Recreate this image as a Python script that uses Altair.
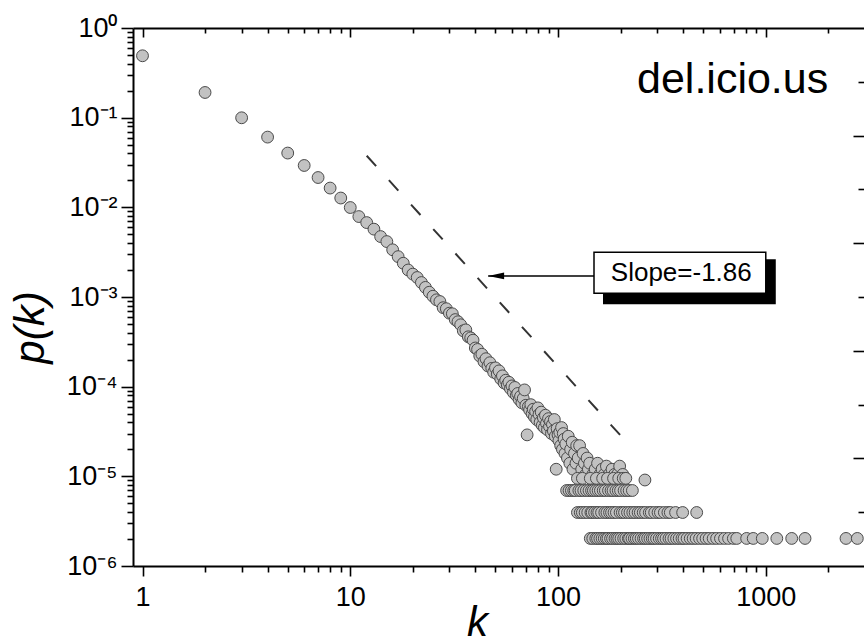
import altair as alt
import pandas as pd

# ---------------- data ----------------
head_k = list(range(1, 101))
head_p = [0.49, 0.191, 0.0997, 0.0607, 0.0403, 0.0293, 0.0215, 0.0164, 0.0127, 0.00995,
          0.00789, 0.00676, 0.00571, 0.00472, 0.00415, 0.00336, 0.00282, 0.00238, 0.00200, 0.00180,
          0.00165, 0.00145, 0.00128, 0.00113, 0.00102, 9.3e-4, 8.9e-4, 7.6e-4, 7.4e-4, 6.6e-4,
          6.5e-4, 5.6e-4, 5.3e-4, 4.9e-4, 4.2e-4, 4.3e-4, 3.6e-4, 3.5e-4, 3.3e-4, 2.7e-4,
          2.6e-4, 2.2e-4, 2.3e-4, 1.9e-4, 2.05e-4, 1.7e-4, 1.85e-4, 1.6e-4, 1.45e-4, 1.62e-4,
          1.38e-4, 1.50e-4, 1.22e-4, 1.32e-4, 1.10e-4, 1.18e-4, 1.05e-4, 1.12e-4, 0.95e-4, 1.02e-4,
          0.86e-4, 0.98e-4, 0.80e-4, 0.84e-4, 0.72e-4, 0.78e-4, 0.66e-4, 0.74e-4, 0.92e-4, 0.62e-4,
          0.29e-4, 0.60e-4, 0.55e-4, 0.63e-4, 0.50e-4, 0.56e-4, 0.46e-4, 0.53e-4, 0.43e-4, 0.58e-4,
          0.49e-4, 0.40e-4, 0.52e-4, 0.37e-4, 0.45e-4, 0.35e-4, 0.48e-4, 0.39e-4, 0.33e-4, 0.44e-4,
          0.36e-4, 0.41e-4, 0.30e-4, 0.38e-4, 0.32e-4, 0.43e-4, 0.28e-4, 0.12e-4, 0.34e-4, 0.29e-4]

mid_k = [101, 102, 103, 104, 105, 106, 107, 108, 109, 111, 112, 114, 115, 117, 118, 120, 122, 123,
         125, 127, 130, 132, 134, 136, 138, 140, 142, 147, 151, 155, 159, 163, 167, 171, 176, 182,
         187, 193, 198, 205, 262]
mid_p = [2.5e-5, 3.1e-5, 2.2e-5, 3.5e-5, 2.0e-5, 3.0e-5, 2.6e-5, 1.8e-5, 2.3e-5, 1.6e-5, 2.8e-5,
         1.4e-5, 2.0e-5, 2.4e-5, 1.2e-5, 1.8e-5, 1.4e-5, 2.2e-5, 1.6e-5, 2.2e-5, 1.2e-5, 1.8e-5,
         1.4e-5, 1.05e-5, 1.6e-5, 1.2e-5, 1.4e-5, 1.05e-5, 1.2e-5, 1.4e-5, 1.05e-5, 1.2e-5,
         1.05e-5, 1.3e-5, 1.05e-5, 1.2e-5, 1.05e-5, 1.05e-5, 1.3e-5, 1.05e-5, 9.1e-6]

row95_k = [124, 131, 143, 153, 164, 173, 185, 196, 206, 212]
row95_p = 9.5e-6

row70_k = [110, 113, 116, 119, 121, 126, 129, 133, 137, 141, 145, 148, 152, 156, 160, 165, 169,
           175, 180, 184, 190, 195, 200, 208, 214, 220, 228]
row70_p = 6.95e-6

row40_k = [124, 128, 131, 135, 139, 144, 146, 150, 154, 157, 162, 168, 172, 177, 181, 186, 191,
           199, 204, 209, 216, 222, 229, 235, 243, 249, 257, 264, 275, 281, 292, 303, 311, 325,
           338, 347, 368, 398, 465]
row40_p = 3.95e-6

row20_k = [143, 147, 152, 155, 159, 163, 167, 171, 174, 179, 183, 188, 192, 196, 201, 207, 212,
           218, 221, 227, 233, 238, 244, 251, 258, 263, 270, 277, 284, 290, 298, 307, 315, 322,
           331, 342, 350, 361, 372, 383, 395, 404, 418, 433, 447, 462, 480, 497, 516, 534, 558,
           580, 605, 633, 662, 698, 725, 809, 870, 962, 1130, 1333, 1545, 2433, 2758]
row20_p = 2.03e-6

fit_k = [12, 229]
fit_p = [0.0376, 2.02e-5]

x_major = [1, 10, 100, 1000]
x_minor = [2, 3, 4, 5, 6, 7, 8, 9, 20, 30, 40, 50, 60, 70, 80, 90,
           200, 300, 400, 500, 600, 700, 800, 900, 2000]
y_major = [1, 0.1, 0.01, 0.001, 1e-4, 1e-5, 1e-6]
y_major_labels = ["10⁰", "10⁻¹", "10⁻²", "10⁻³", "10⁻⁴", "10⁻⁵", "10⁻⁶"]
y_minor = [m * 10.0 ** e for e in range(-6, 0) for m in range(2, 10)]

right_short = [1, 3, 5, 7, 9]
right_long = [2, 4, 6, 8]

# annotations (data coordinates)
site_label = "del.icio.us"
site_k, site_p = 240, 0.188
box_k = [149, 1000]
box_p = [3.15e-3, 1.10e-3]
box_text = "Slope=-1.86"
box_text_k, box_text_p = 392, 1.49e-3
arrow_k = [46.1, 149]
arrow_p = 1.72e-3

# ---------------- tables ----------------
rows = [pd.DataFrame({"k": head_k, "p": head_p}),
        pd.DataFrame({"k": mid_k, "p": mid_p}),
        pd.DataFrame({"k": row95_k, "p": row95_p}),
        pd.DataFrame({"k": row70_k, "p": row70_p}),
        pd.DataFrame({"k": row40_k, "p": row40_p}),
        pd.DataFrame({"k": row20_k, "p": row20_p})]
pts = pd.concat(rows, ignore_index=True)
fit = pd.DataFrame({"k": fit_k, "p": fit_p})
box = pd.DataFrame({"k1": [box_k[0]], "k2": [box_k[1]], "p1": [box_p[0]], "p2": [box_p[1]]})
arrow = pd.DataFrame({"k1": [arrow_k[0]], "k2": [arrow_k[1]], "p": [arrow_p]})
tip = pd.DataFrame({"k": [arrow_k[0]], "p": [arrow_p]})
site = pd.DataFrame({"k": [site_k], "p": [site_p], "t": [site_label]})
btxt = pd.DataFrame({"k": [box_text_k], "p": [box_text_p], "t": [box_text]})

W, H = 731, 538
FONT = "Liberation Sans"
xs = alt.Scale(type="log", domain=[0.9, 2970])
ys = alt.Scale(type="log", domain=[1e-6, 1])

label_expr = "[" + ",".join("'%s'" % s for s in y_major_labels) + "][round(-log(datum.value)/LN10)]"

ax_common = dict(grid=False, tickColor="black", domainColor="black", labelColor="black",
                 labelFont=FONT, titleFont=FONT, tickWidth=1.6, domainWidth=2)

# main points with bottom-major and left-major axes
points = alt.Chart(pts).mark_circle(size=140, fill="#c2c2c2", stroke="#4a4a4a",
                                    strokeWidth=1, opacity=1).encode(
    x=alt.X("k:Q", scale=xs, axis=alt.Axis(
        orient="bottom", values=x_major, tickSize=10, format="d", labelFontSize=27,
        labelPadding=8, labelFlush=False, labelOverlap=False, domain=False,
        title="k", titleFontSize=42, titleFontStyle="italic", titleFontWeight="normal",
        titleX=344, titleY=69, titleBaseline="alphabetic", titleAlign="center", **ax_common)),
    y=alt.Y("p:Q", scale=ys, axis=alt.Axis(
        orient="left", values=y_major, tickSize=12, labelExpr=label_expr, labelFontSize=27,
        labelPadding=4, labelOverlap=False, labelFlush=False, domain=False,
        title="p(k)", titleFontSize=42, titleFontStyle="italic", titleFontWeight="normal",
        titleX=-90, titleY=299, titleAngle=270, titleBaseline="alphabetic", titleAlign="center",
        **ax_common)),
)

# minor ticks bottom + left with domain lines
minor = alt.Chart(pts).mark_circle(opacity=0).encode(
    x=alt.X("k:Q", scale=xs, axis=alt.Axis(orient="bottom", values=x_minor, tickSize=6,
                                           labels=False, title=None, **ax_common)),
    y=alt.Y("p:Q", scale=ys, axis=alt.Axis(orient="left", values=y_minor, tickSize=6,
                                           labels=False, title=None, **ax_common)),
)

# top axis (ticks pointing inward)
top_major = alt.Chart(pts).mark_circle(opacity=0).encode(
    x=alt.X("k:Q", scale=xs, axis=alt.Axis(orient="bottom", values=x_major, tickSize=9,
                                           labels=False, offset=-H, title=None, domain=True,
                                           **ax_common)),
    y=alt.Y("p:Q", scale=ys, axis=None),
)
top_minor = alt.Chart(pts).mark_circle(opacity=0).encode(
    x=alt.X("k:Q", scale=xs, axis=alt.Axis(orient="bottom", values=x_minor, tickSize=5,
                                           labels=False, offset=-H, title=None, domain=False,
                                           **ax_common)),
    y=alt.Y("p:Q", scale=ys, axis=None),
)

fitline = alt.Chart(fit).mark_line(color="#333333", strokeWidth=2, strokeDash=[14, 19]).encode(
    x=alt.X("k:Q", scale=xs, axis=None), y=alt.Y("p:Q", scale=ys, axis=None))

shadow = alt.Chart(box).mark_rect(color="black", xOffset=9, x2Offset=10, yOffset=7, y2Offset=11).encode(
    x=alt.X("k1:Q", scale=xs, axis=None), x2="k2:Q",
    y=alt.Y("p1:Q", scale=ys, axis=None), y2="p2:Q")
boxr = alt.Chart(box).mark_rect(fill="white", stroke="black", strokeWidth=1.5).encode(
    x=alt.X("k1:Q", scale=xs, axis=None), x2="k2:Q",
    y=alt.Y("p1:Q", scale=ys, axis=None), y2="p2:Q")
boxt = alt.Chart(btxt).mark_text(font=FONT, fontSize=26, color="black", align="center",
                                 baseline="alphabetic").encode(
    x=alt.X("k:Q", scale=xs, axis=None), y=alt.Y("p:Q", scale=ys, axis=None), text="t:N")
arrow_line = alt.Chart(arrow).mark_rule(color="black", strokeWidth=1.5).encode(
    x=alt.X("k1:Q", scale=xs, axis=None), x2="k2:Q", y=alt.Y("p:Q", scale=ys, axis=None))
arrow_head = alt.Chart(tip).mark_point(shape="M0,0 L1,-0.21 L1,0.21 Z", size=1024, filled=True,
                                       color="black", opacity=1).encode(
    x=alt.X("k:Q", scale=xs, axis=None), y=alt.Y("p:Q", scale=ys, axis=None))
site_t = alt.Chart(site).mark_text(font=FONT, fontSize=43, color="black", align="left",
                                   baseline="alphabetic").encode(
    x=alt.X("k:Q", scale=xs, axis=None), y=alt.Y("p:Q", scale=ys, axis=None), text="t:N")

main = alt.layer(points, minor, top_major, top_minor, fitline, shadow, boxr, boxt,
                 arrow_line, arrow_head, site_t).resolve_axis(x="independent", y="independent")

# tick marks of the neighbouring panel at the right edge
rs = alt.Scale(domain=[0, 10])
deco1 = alt.Chart(pd.DataFrame({"r": right_short})).mark_point(opacity=0).encode(
    y=alt.Y("r:Q", scale=rs, axis=alt.Axis(orient="left", values=right_short, tickSize=6,
                                           labels=False, domain=False, offset=-W, title=None,
                                           **ax_common)))
deco2 = alt.Chart(pd.DataFrame({"r": right_long})).mark_point(opacity=0).encode(
    y=alt.Y("r:Q", scale=rs, axis=alt.Axis(orient="left", values=right_long, tickSize=11,
                                           labels=False, domain=False, offset=-W, title=None,
                                           **ax_common)))
deco = alt.layer(deco1, deco2).resolve_axis(y="independent")

chart = alt.layer(main, deco).resolve_scale(y="independent").resolve_axis(
    x="independent", y="independent").properties(
    width=W, height=H,
    padding={"left": 133, "top": 28, "right": 0, "bottom": 78},
    autosize=alt.AutoSizeParams(type="none"),
    background="white",
).configure_view(stroke=None)

chart.save("out.html", embed_options={"renderer": "svg", "actions": False})
